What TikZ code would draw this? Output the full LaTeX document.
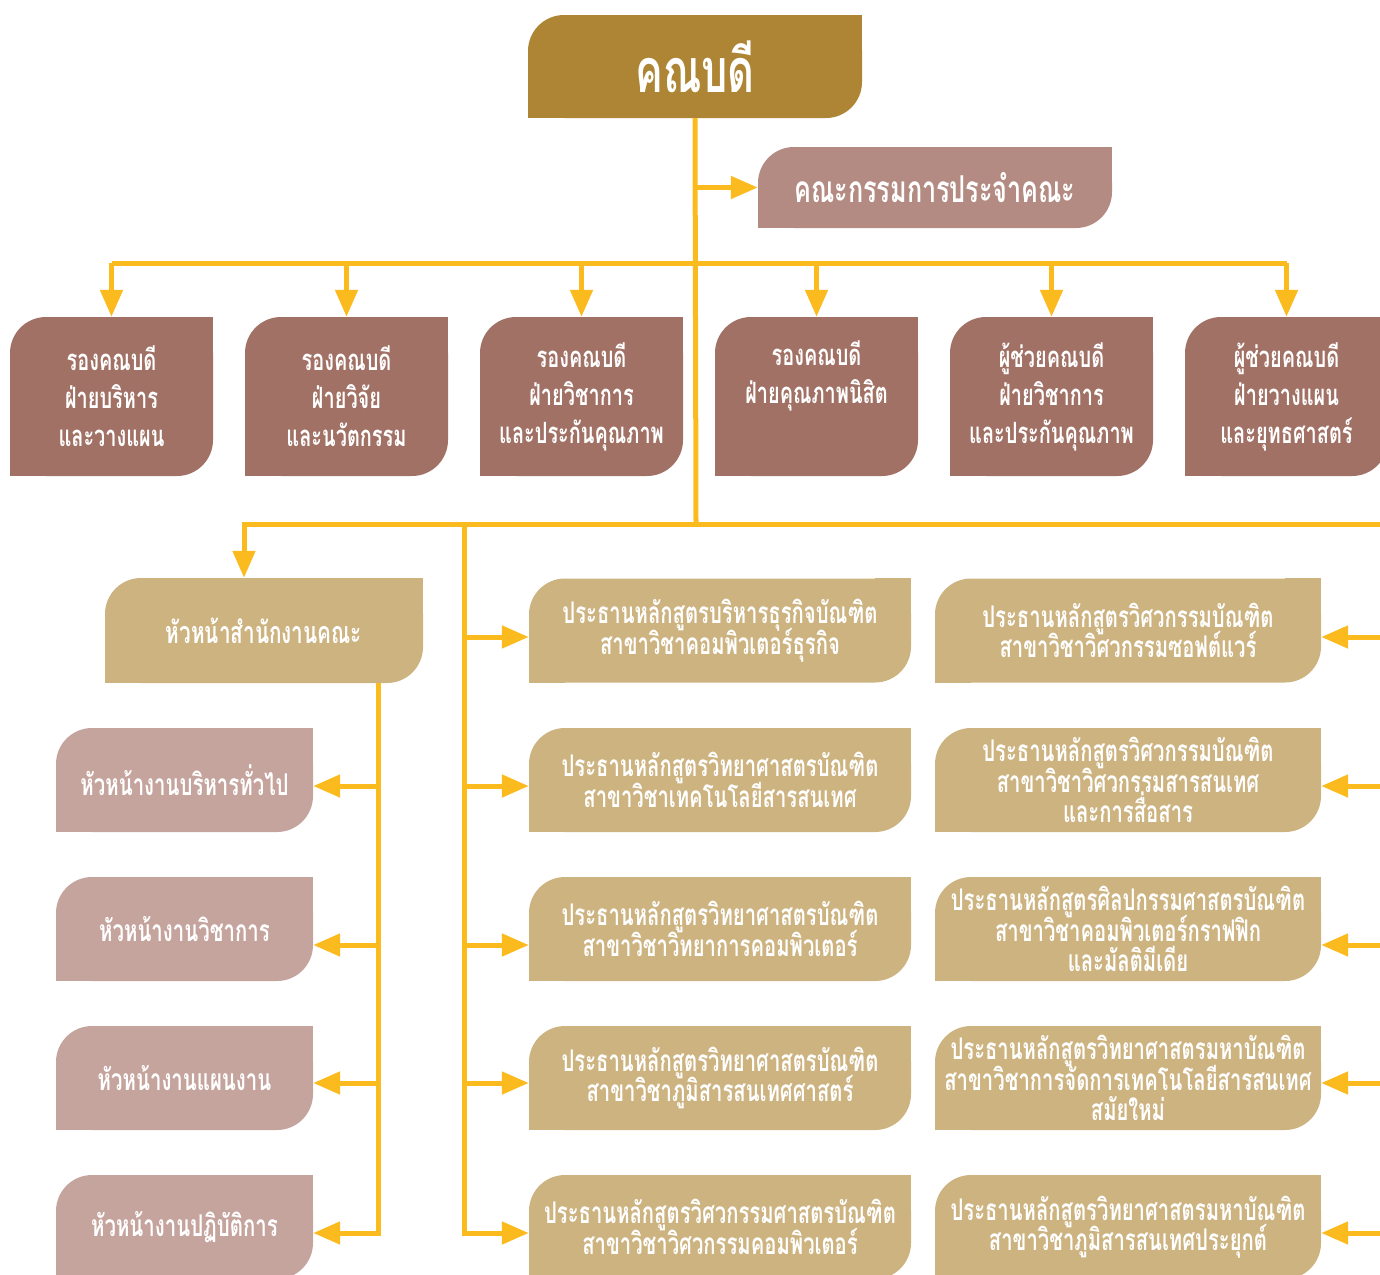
\documentclass[tikz,border=0pt]{standalone}
\usepackage{fontspec}
\newfontfamily\thaifont[Script=Thai, FakeStretch=0.68]{Loma}
\usetikzlibrary{arrows.meta, positioning, backgrounds}

\definecolor{deancol}{RGB}{173,133,52}
\definecolor{comcol}{RGB}{180,139,130}
\definecolor{vpcol}{RGB}{161,113,101}
\definecolor{progcol}{RGB}{204,179,128}
\definecolor{subcol}{RGB}{197,164,158}
\definecolor{linecol}{RGB}{251,187,30}

\newcommand\tightlines{\lineskiplimit -50pt\lineskip 0pt\relax}

\tikzset{
  leaf/.style={rounded corners=36pt, text=white, align=center, inner sep=0pt},
  deanbox/.style={leaf, fill=deancol, minimum width=334pt, minimum height=103pt,
    font=\thaifont\bfseries\fontsize{61}{64}\selectfont},
  combox/.style={leaf, fill=comcol, minimum width=354pt, minimum height=81pt,
    font=\thaifont\bfseries\fontsize{37}{40}\selectfont},
  vpbox/.style={leaf, fill=vpcol, minimum width=203pt, minimum height=159pt,
    font=\thaifont\bfseries\fontsize{29.3}{38}\selectfont\tightlines},
  ofcbox/.style={leaf, fill=progcol, minimum width=318pt, minimum height=105pt,
    font=\thaifont\bfseries\fontsize{30.5}{32}\selectfont},
  subbox/.style={leaf, fill=subcol, minimum width=257pt, minimum height=104pt,
    font=\thaifont\bfseries\fontsize{30}{32}\selectfont},
  progbox/.style={leaf, fill=progcol, minimum width=382pt, minimum height=104pt,
    font=\thaifont\bfseries\fontsize{29.8}{30.5}\selectfont\tightlines},
  link/.style={draw=linecol, line width=5pt},
  arr/.style={link, -{Triangle[length=27pt, width=22pt]}},
}

\begin{document}
\begin{tikzpicture}[x=1pt, y=-1pt, node distance=235pt, on grid]
\path[use as bounding box, clip] (0,0) rectangle (1380,1274);

\node (dean) [deanbox] at (695,66.5) {คณบดี};
\node (com) [combox] at (935,187.5) {คณะกรรมการประจำคณะ};

% รองคณบดี / ผู้ช่วยคณบดี
\node (vp1) [vpbox] at (111.5,396.5) {รองคณบดี\\ฝ่ายบริหาร\\และวางแผน};
\node (vp2) [vpbox, right = of vp1] {รองคณบดี\\ฝ่ายวิจัย\\และนวัตกรรม};
\node (vp3) [vpbox, right = of vp2] {รองคณบดี\\ฝ่ายวิชาการ\\และประกันคุณภาพ};
\node (vp4) [vpbox, right = of vp3] {รองคณบดี\\ฝ่ายคุณภาพนิสิต\\\strut};
\node (vp5) [vpbox, right = of vp4] {ผู้ช่วยคณบดี\\ฝ่ายวิชาการ\\และประกันคุณภาพ};
\node (vp6) [vpbox, right = of vp5] {ผู้ช่วยคณบดี\\ฝ่ายวางแผน\\และยุทธศาสตร์};

% สำนักงาน
\node (ofc) [ofcbox] at (264,630.5) {หัวหน้าสำนักงานคณะ};
\node (s1) [subbox] at (184.5,780) {หัวหน้างานบริหารทั่วไป};
\node (s2) [subbox, below = 149pt of s1] {หัวหน้างานวิชาการ};
\node (s3) [subbox, below = 149pt of s2] {หัวหน้างานแผนงาน};
\node (s4) [subbox, below = 149pt of s3] {หัวหน้างานปฏิบัติการ};

% หลักสูตร
\node (m1) [progbox] at (720,630.5) {ประธานหลักสูตรบริหารธุรกิจบัณฑิต\\สาขาวิชาคอมพิวเตอร์ธุรกิจ};
\node (m2) [progbox, below = 149.5pt of m1] {ประธานหลักสูตรวิทยาศาสตรบัณฑิต\\สาขาวิชาเทคโนโลยีสารสนเทศ};
\node (m3) [progbox, below = 149pt of m2] {ประธานหลักสูตรวิทยาศาสตรบัณฑิต\\สาขาวิชาวิทยาการคอมพิวเตอร์};
\node (m4) [progbox, below = 149pt of m3] {ประธานหลักสูตรวิทยาศาสตรบัณฑิต\\สาขาวิชาภูมิสารสนเทศศาสตร์};
\node (m5) [progbox, below = 149pt of m4] {ประธานหลักสูตรวิศวกรรมศาสตรบัณฑิต\\สาขาวิชาวิศวกรรมคอมพิวเตอร์};

\node (r1) [progbox, minimum width=386pt] at (1128,630.5) {ประธานหลักสูตรวิศวกรรมบัณฑิต\\สาขาวิชาวิศวกรรมซอฟต์แวร์};
\node (r2) [progbox, minimum width=386pt, below = 149.5pt of r1] {ประธานหลักสูตรวิศวกรรมบัณฑิต\\สาขาวิชาวิศวกรรมสารสนเทศ\\และการสื่อสาร};
\node (r3) [progbox, minimum width=386pt, below = 149pt of r2] {ประธานหลักสูตรศิลปกรรมศาสตรบัณฑิต\\สาขาวิชาคอมพิวเตอร์กราฟฟิก\\และมัลติมีเดีย};
\node (r4) [progbox, minimum width=386pt, below = 149pt of r3] {ประธานหลักสูตรวิทยาศาสตรมหาบัณฑิต\\สาขาวิชาการจัดการเทคโนโลยีสารสนเทศ\\สมัยใหม่};
\node (r5) [progbox, minimum width=386pt, below = 149pt of r4] {ประธานหลักสูตรวิทยาศาสตรมหาบัณฑิต\\สาขาวิชาภูมิสารสนเทศประยุกต์};

% square corners
\begin{scope}[on background layer]
\foreach \n/\c in {dean/deancol, com/comcol, vp1/vpcol, vp2/vpcol, vp3/vpcol,
    vp4/vpcol, vp5/vpcol, vp6/vpcol, ofc/progcol, s1/subcol, s2/subcol,
    s3/subcol, s4/subcol, m1/progcol, m2/progcol, m3/progcol, m4/progcol,
    m5/progcol, r1/progcol, r2/progcol, r3/progcol, r4/progcol, r5/progcol}
{
  \fill[\c] (\n.north east) rectangle ++(-36pt,-36pt);
  \fill[\c] (\n.south west) rectangle ++(36pt,36pt);
}
\end{scope}

\coordinate (bus1) at (696,263);
\coordinate (bus2) at (696,524);
\coordinate (otop) at (244,524);
\coordinate (mtop) at (464,524);
\coordinate (rtop) at (1396,524);
\coordinate (olow) at (378,683);
\foreach \i/\y in {1/637, 2/786, 3/945, 4/1083, 5/1233}
  \coordinate (row\i) at (0,\y);

% trunk
\draw[link] (dean.south) -- (bus2);
\draw[arr] (dean.south |- com.west) -- (com.west);
\draw[link] (vp1.north |- bus1) -- (vp6.north |- bus1);
\foreach \i in {1,...,6}
  \draw[arr] (vp\i.north |- bus1) -- (vp\i.north);

\draw[arr] (rtop) -- (otop) -- (otop |- ofc.north);

% office
\draw[arr] (olow) -- (olow |- row5) -- (row5 -| s4.east);
\foreach \i/\r in {1/2, 2/3, 3/4}
  \draw[arr] (olow |- row\r) -- (row\r -| s\i.east);

% programmes
\draw[arr] (mtop) -- (mtop |- row5) -- (row5 -| m5.west);
\foreach \i in {1,...,4}
  \draw[arr] (mtop |- row\i) -- (row\i -| m\i.west);

\draw[link] (rtop) -- (rtop |- row5);
\foreach \i in {1,...,5}
  \draw[arr] (rtop |- row\i) -- (row\i -| r\i.east);
\end{tikzpicture}
\end{document}
